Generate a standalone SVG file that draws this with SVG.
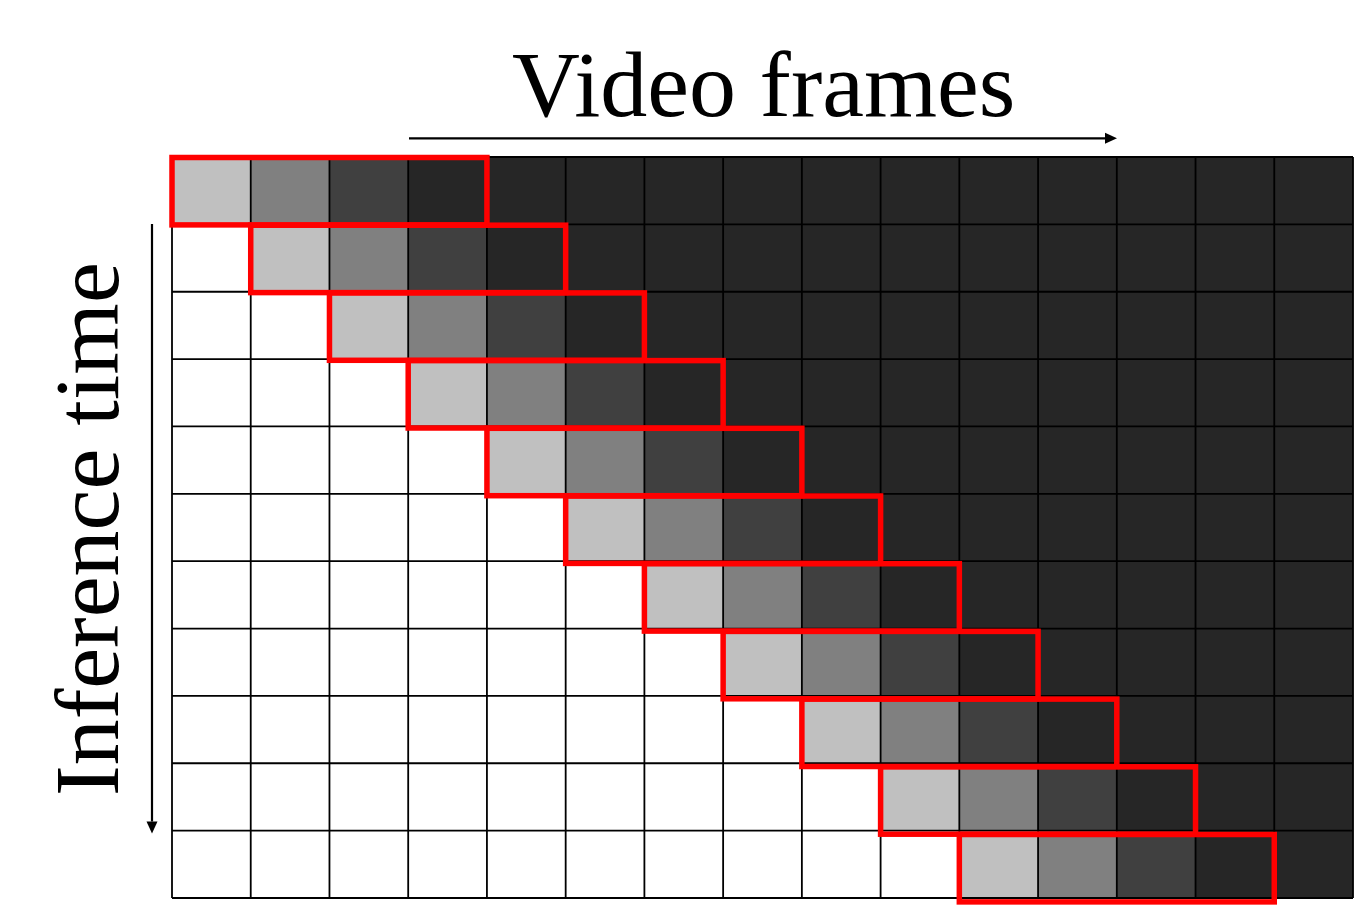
<svg xmlns="http://www.w3.org/2000/svg" width="1356" height="906" viewBox="0 0 1356 906">
<style>
.w{fill:#ffffff}.l{fill:#c0c0c0}.m{fill:#808080}.d{fill:#404040}.k{fill:#262626}
.grid{fill:none;stroke:#000;stroke-width:1.8}
.win{fill:none;stroke:#ff0000;stroke-width:5.5}
.lbl{font-family:"Liberation Serif","Times New Roman",serif;font-size:92px;fill:#000}
.arr{stroke:#000;stroke-width:2.2;fill:none}
</style>
<defs>
<marker id="ah" markerUnits="userSpaceOnUse" markerWidth="12" markerHeight="11" refX="0" refY="5.5" orient="auto" overflow="visible">
<path d="M0,0 L12,5.5 L0,11 Z" fill="#000"/>
</marker>
</defs>
<rect x="0" y="0" width="1356" height="906" fill="#fff"/>
<g id="cells">
<g id="row0"><rect class="l" x="172" y="157" width="78.73" height="67.36"/><rect class="m" x="250.73" y="157" width="78.73" height="67.36"/><rect class="d" x="329.47" y="157" width="78.73" height="67.36"/><rect class="k" x="408.2" y="157" width="944.8" height="67.36"/></g>
<g id="row1"><rect class="w" x="172" y="224.36" width="78.73" height="67.37"/><rect class="l" x="250.73" y="224.36" width="78.73" height="67.37"/><rect class="m" x="329.47" y="224.36" width="78.73" height="67.37"/><rect class="d" x="408.2" y="224.36" width="78.73" height="67.37"/><rect class="k" x="486.93" y="224.36" width="866.07" height="67.37"/></g>
<g id="row2"><rect class="w" x="172" y="291.73" width="157.47" height="67.36"/><rect class="l" x="329.47" y="291.73" width="78.73" height="67.36"/><rect class="m" x="408.2" y="291.73" width="78.73" height="67.36"/><rect class="d" x="486.93" y="291.73" width="78.73" height="67.36"/><rect class="k" x="565.67" y="291.73" width="787.33" height="67.36"/></g>
<g id="row3"><rect class="w" x="172" y="359.09" width="236.2" height="67.36"/><rect class="l" x="408.2" y="359.09" width="78.73" height="67.36"/><rect class="m" x="486.93" y="359.09" width="78.73" height="67.36"/><rect class="d" x="565.67" y="359.09" width="78.73" height="67.36"/><rect class="k" x="644.4" y="359.09" width="708.6" height="67.36"/></g>
<g id="row4"><rect class="w" x="172" y="426.45" width="314.93" height="67.37"/><rect class="l" x="486.93" y="426.45" width="78.73" height="67.37"/><rect class="m" x="565.67" y="426.45" width="78.73" height="67.37"/><rect class="d" x="644.4" y="426.45" width="78.73" height="67.37"/><rect class="k" x="723.13" y="426.45" width="629.87" height="67.37"/></g>
<g id="row5"><rect class="w" x="172" y="493.82" width="393.67" height="67.36"/><rect class="l" x="565.67" y="493.82" width="78.73" height="67.36"/><rect class="m" x="644.4" y="493.82" width="78.73" height="67.36"/><rect class="d" x="723.13" y="493.82" width="78.73" height="67.36"/><rect class="k" x="801.87" y="493.82" width="551.13" height="67.36"/></g>
<g id="row6"><rect class="w" x="172" y="561.18" width="472.4" height="67.37"/><rect class="l" x="644.4" y="561.18" width="78.73" height="67.37"/><rect class="m" x="723.13" y="561.18" width="78.73" height="67.37"/><rect class="d" x="801.87" y="561.18" width="78.73" height="67.37"/><rect class="k" x="880.6" y="561.18" width="472.4" height="67.37"/></g>
<g id="row7"><rect class="w" x="172" y="628.55" width="551.13" height="67.36"/><rect class="l" x="723.13" y="628.55" width="78.73" height="67.36"/><rect class="m" x="801.87" y="628.55" width="78.73" height="67.36"/><rect class="d" x="880.6" y="628.55" width="78.73" height="67.36"/><rect class="k" x="959.33" y="628.55" width="393.67" height="67.36"/></g>
<g id="row8"><rect class="w" x="172" y="695.91" width="629.87" height="67.36"/><rect class="l" x="801.87" y="695.91" width="78.73" height="67.36"/><rect class="m" x="880.6" y="695.91" width="78.73" height="67.36"/><rect class="d" x="959.33" y="695.91" width="78.73" height="67.36"/><rect class="k" x="1038.07" y="695.91" width="314.93" height="67.36"/></g>
<g id="row9"><rect class="w" x="172" y="763.27" width="708.6" height="67.37"/><rect class="l" x="880.6" y="763.27" width="78.73" height="67.37"/><rect class="m" x="959.33" y="763.27" width="78.73" height="67.37"/><rect class="d" x="1038.07" y="763.27" width="78.73" height="67.37"/><rect class="k" x="1116.8" y="763.27" width="236.2" height="67.37"/></g>
<g id="row10"><rect class="w" x="172" y="830.64" width="787.33" height="67.36"/><rect class="l" x="959.33" y="830.64" width="78.73" height="67.36"/><rect class="m" x="1038.07" y="830.64" width="78.73" height="67.36"/><rect class="d" x="1116.8" y="830.64" width="78.73" height="67.36"/><rect class="k" x="1195.53" y="830.64" width="157.47" height="67.36"/></g>
</g>
<g id="gridlines">
<path class="grid" d="M172,157V898M250.73,157V898M329.47,157V898M408.2,157V898M486.93,157V898M565.67,157V898M644.4,157V898M723.13,157V898M801.87,157V898M880.6,157V898M959.33,157V898M1038.07,157V898M1116.8,157V898M1195.53,157V898M1274.27,157V898M1353,157V898"/>
<path class="grid" d="M172,157H1353M172,224.36H1353M172,291.73H1353M172,359.09H1353M172,426.45H1353M172,493.82H1353M172,561.18H1353M172,628.55H1353M172,695.91H1353M172,763.27H1353M172,830.64H1353M172,898H1353"/>
</g>
<g id="windows">
<rect class="win" x="172" y="157.5" width="314.93" height="67.4"/>
<rect class="win" x="250.73" y="225.2" width="314.93" height="67.4"/>
<rect class="win" x="329.47" y="292.9" width="314.93" height="67.4"/>
<rect class="win" x="408.2" y="360.6" width="314.93" height="67.4"/>
<rect class="win" x="486.93" y="428.3" width="314.93" height="67.4"/>
<rect class="win" x="565.67" y="496" width="314.93" height="67.4"/>
<rect class="win" x="644.4" y="563.7" width="314.93" height="67.4"/>
<rect class="win" x="723.13" y="631.4" width="314.93" height="67.4"/>
<rect class="win" x="801.87" y="699.1" width="314.93" height="67.4"/>
<rect class="win" x="880.6" y="766.8" width="314.93" height="67.4"/>
<rect class="win" x="959.33" y="834.5" width="314.93" height="67.4"/>
</g>
<g id="connectors">
<line class="arr" x1="409" y1="138.3" x2="1105" y2="138.3" marker-end="url(#ah)"/>
<line class="arr" x1="152" y1="224" x2="152" y2="821.5" marker-end="url(#ah)"/>
</g>
<g id="labels">
<text class="lbl" x="512" y="116" style="font-size:94px">Video frames</text>
<text class="lbl" transform="translate(118,796) rotate(-90)">Inference time</text>
</g>
</svg>
